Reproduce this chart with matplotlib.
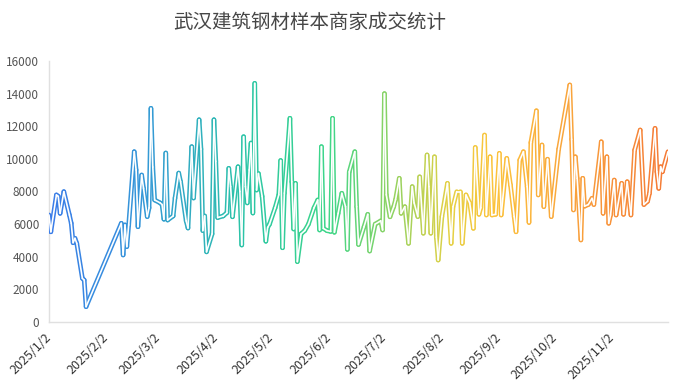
import numpy as np
import pandas as pd
import matplotlib
matplotlib.use('Agg')
import matplotlib.pyplot as plt
import matplotlib.dates as mdates
from matplotlib.collections import LineCollection
from matplotlib.colors import LinearSegmentedColormap

plt.rcParams['font.family'] = ['Noto Sans CJK SC', 'DejaVu Sans']

# ---------------------------
# Data
# ---------------------------
dates = [
    '2025-01-02', '2025-01-03', '2025-01-06', '2025-01-07', '2025-01-08', '2025-01-10',
    '2025-01-13', '2025-01-14', '2025-01-15', '2025-01-16', '2025-01-17', '2025-01-20',
    '2025-01-21', '2025-01-22', '2025-02-10', '2025-02-11', '2025-02-12', '2025-02-13',
    '2025-02-14', '2025-02-17', '2025-02-18', '2025-02-19', '2025-02-21', '2025-02-22',
    '2025-02-24', '2025-02-25', '2025-02-26', '2025-02-27', '2025-02-28', '2025-03-03',
    '2025-03-04', '2025-03-05', '2025-03-06', '2025-03-07', '2025-03-10', '2025-03-11',
    '2025-03-13', '2025-03-14', '2025-03-17', '2025-03-18', '2025-03-20', '2025-03-21',
    '2025-03-24', '2025-03-25', '2025-03-26', '2025-03-27', '2025-03-28', '2025-03-31',
    '2025-04-01', '2025-04-02', '2025-04-03', '2025-04-06', '2025-04-08', '2025-04-09',
    '2025-04-10', '2025-04-11', '2025-04-14', '2025-04-15', '2025-04-16', '2025-04-17',
    '2025-04-18', '2025-04-19', '2025-04-20', '2025-04-21', '2025-04-22', '2025-04-23',
    '2025-04-24', '2025-04-25', '2025-04-27', '2025-04-29', '2025-04-30', '2025-05-01',
    '2025-05-04', '2025-05-06', '2025-05-07', '2025-05-08', '2025-05-09', '2025-05-12',
    '2025-05-13', '2025-05-14', '2025-05-15', '2025-05-16', '2025-05-18', '2025-05-20',
    '2025-05-22', '2025-05-25', '2025-05-27', '2025-05-28', '2025-05-29', '2025-05-30',
    '2025-06-01', '2025-06-03', '2025-06-04', '2025-06-05', '2025-06-07', '2025-06-09',
    '2025-06-11', '2025-06-12', '2025-06-13', '2025-06-16', '2025-06-17', '2025-06-18',
    '2025-06-21', '2025-06-23', '2025-06-24', '2025-06-27', '2025-06-30', '2025-07-01',
    '2025-07-02', '2025-07-03', '2025-07-05', '2025-07-07', '2025-07-08', '2025-07-10',
    '2025-07-11', '2025-07-13', '2025-07-15', '2025-07-17', '2025-07-18', '2025-07-20',
    '2025-07-21', '2025-07-23', '2025-07-25', '2025-07-26', '2025-07-27', '2025-07-29',
    '2025-07-30', '2025-07-31', '2025-08-02', '2025-08-05', '2025-08-07', '2025-08-08',
    '2025-08-10', '2025-08-12', '2025-08-13', '2025-08-15', '2025-08-17', '2025-08-19',
    '2025-08-20', '2025-08-22', '2025-08-23', '2025-08-25', '2025-08-26', '2025-08-28',
    '2025-08-29', '2025-08-31', '2025-09-02', '2025-09-03', '2025-09-06', '2025-09-08',
    '2025-09-10', '2025-09-11', '2025-09-13', '2025-09-15', '2025-09-17', '2025-09-18',
    '2025-09-19', '2025-09-22', '2025-09-23', '2025-09-25', '2025-09-26', '2025-09-28',
    '2025-09-30', '2025-10-04', '2025-10-10', '2025-10-11', '2025-10-12', '2025-10-13',
    '2025-10-14', '2025-10-16', '2025-10-17', '2025-10-18', '2025-10-20', '2025-10-22',
    '2025-10-23', '2025-10-27', '2025-10-28', '2025-10-30', '2025-10-31', '2025-11-01',
    '2025-11-03', '2025-11-04', '2025-11-07', '2025-11-08', '2025-11-10', '2025-11-12',
    '2025-11-14', '2025-11-17', '2025-11-19', '2025-11-21', '2025-11-22', '2025-11-25',
    '2025-11-26', '2025-11-27', '2025-11-28', '2025-11-29', '2025-12-02',
]

volumes = [
    6560, 5530, 7790, 7700, 6660, 7990,
    6560, 6050, 4860, 5130, 4820, 2680,
    2570, 940, 6050, 4110, 5950, 4620,
    5950, 10440, 9320, 5840, 9010, 8200,
    6460, 7000, 13100, 9500, 7480, 7300,
    7200, 6300, 10360, 6250, 6500, 7600,
    9130, 8600, 6200, 5760, 10750, 7600,
    12400, 10600, 5600, 6500, 4300, 5400,
    12400, 9850, 6400, 6500, 6700, 9420,
    8300, 6450, 9520, 8000, 4720, 11360,
    8300, 7300, 9320, 10970, 6680, 14630,
    8090, 9100, 7700, 4950, 5800, 6000,
    7000, 7800, 9900, 4550, 7900, 12490,
    8600, 5700, 8500, 3700, 5400, 5600,
    6000, 7000, 7480, 5640, 10750, 5740,
    5600, 5550, 12490, 5500, 6660, 7890,
    7070, 4450, 9200, 10440, 7070, 4750,
    5840, 6600, 4350, 6000, 6200, 5640,
    14000, 7800, 6450, 7070, 7500, 8810,
    6660, 7070, 4820, 8300, 7300, 6460,
    8900, 5440, 10240, 8300, 5440, 10130,
    5200, 3800, 6460, 8500, 4820, 7070,
    7990, 7990, 4820, 7790, 7300, 5740,
    10700, 6600, 7000, 11460, 6560, 10130,
    6560, 6600, 10340, 6560, 10030, 8400,
    6460, 5530, 9930, 10440, 8300, 6100,
    11000, 12950, 7790, 10850, 7070, 9980,
    6460, 10600, 14530, 11200, 6870, 10130,
    8810, 5030, 8810, 7100, 7200, 7580,
    7200, 11050, 6660, 10130, 6050, 6560,
    8700, 6560, 8500, 6600, 8600, 6560,
    10540, 11770, 7200, 7400, 7890, 11870,
    9210, 8190, 9520, 9210, 10440,
]

tick_dates = ['2025-01-02', '2025-02-02', '2025-03-02', '2025-04-02', '2025-05-02', '2025-06-02',
              '2025-07-02', '2025-08-02', '2025-09-02', '2025-10-02', '2025-11-02']
tick_labels = ['2025/1/2', '2025/2/2', '2025/3/2', '2025/4/2', '2025/5/2', '2025/6/2',
               '2025/7/2', '2025/8/2', '2025/9/2', '2025/10/2', '2025/11/2']

title = '武汉建筑钢材样本商家成交统计'

# ---------------------------
# Plot
# ---------------------------
x = mdates.date2num(pd.to_datetime(dates))
y = np.array(volumes, dtype=float)

fig = plt.figure(figsize=(6.92, 3.88), dpi=100)
ax = fig.add_axes([49 / 692, 1 - 322 / 388, (668 - 49) / 692, (322 - 61) / 388])

grad = LinearSegmentedColormap.from_list('grad', [
    (0.00, '#3a7ce8'),
    (0.15, '#3597d8'),
    (0.32, '#2cc6a6'),
    (0.45, '#3dd68a'),
    (0.55, '#8bd364'),
    (0.65, '#e6d044'),
    (0.72, '#fcc33c'),
    (0.85, '#f9a23c'),
    (1.00, '#f57a36'),
])

pts = np.column_stack([x, y]).reshape(-1, 1, 2)
segs = np.concatenate([pts[:-1], pts[1:]], axis=1)
mid = (x[:-1] + x[1:]) / 2
colors = grad((mid - x[0]) / (x[-1] - x[0]))

# hollow-looking line: thick coloured stroke with a thin white core
outer = LineCollection(segs, colors=colors, linewidths=3.4, capstyle='round', joinstyle='round', zorder=3)
inner = LineCollection(segs, colors='white', linewidths=1.2, capstyle='round', joinstyle='round', zorder=4)
ax.add_collection(outer)
ax.add_collection(inner)

ax.set_xlim(x[0], x[-1])
ax.set_ylim(0, 16000)
ax.set_yticks(np.arange(0, 16001, 2000))
ax.tick_params(axis='y', length=0, pad=7, labelsize=8.5, labelcolor='#555555')

ax.set_xticks(mdates.date2num(pd.to_datetime(tick_dates)))
ax.set_xticklabels(tick_labels, rotation=45, ha='right', va='center', rotation_mode='anchor',
                   fontsize=9, color='#333333')
ax.tick_params(axis='x', length=0, pad=10)

for side in ['top', 'right']:
    ax.spines[side].set_visible(False)
for side in ['left', 'bottom']:
    ax.spines[side].set_color('#e0e0e0')
    ax.spines[side].set_linewidth(1.0)

fig.text(310 / 692, 1 - 22 / 388, title, ha='center', va='center', fontsize=14, color='#464646')

fig.savefig('out.png', dpi=100)
